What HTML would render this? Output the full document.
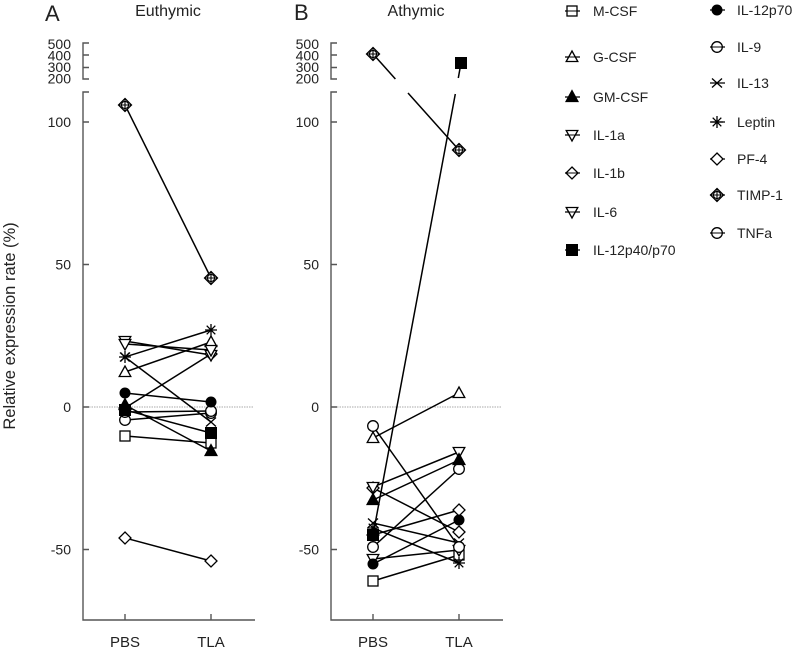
<!DOCTYPE html>
<html><head><meta charset="utf-8"><style>
html,body{margin:0;padding:0;background:#fff;}
svg{display:block;}
text{font-family:"Liberation Sans",Arial,sans-serif;fill:#222;}
</style></head><body>
<svg width="795" height="649" viewBox="0 0 795 649" xmlns="http://www.w3.org/2000/svg">
<defs>
<g id="sq"><rect x="-5" y="-5" width="10" height="10" fill="#fff" stroke="#000" stroke-width="1.3"/></g>
<g id="sqf"><rect x="-5.5" y="-5.5" width="11" height="11" fill="#000" stroke="#000" stroke-width="1"/></g>
<g id="triU"><polygon points="0,-6 5.8,4.5 -5.8,4.5" fill="#fff" stroke="#000" stroke-width="1.3"/></g>
<g id="triUf"><polygon points="0,-6.5 6,4.5 -6,4.5" fill="#000" stroke="#000" stroke-width="1.2"/></g>
<g id="triD"><polygon points="-5.8,-4.5 5.8,-4.5 0,6" fill="#fff" stroke="#000" stroke-width="1.3"/></g>
<g id="dia"><polygon points="0,-6 6,0 0,6 -6,0" fill="#fff" stroke="#000" stroke-width="1.3"/></g>
<g id="circf"><circle r="5.5" fill="#000"/></g>
<g id="circ"><circle r="5.3" fill="#fff" stroke="#000" stroke-width="1.3"/></g>
<g id="xm"><path d="M-5,-4.5L5,4.5M-5,4.5L5,-4.5" stroke="#000" stroke-width="1.3"/></g>
<g id="ast"><path d="M-6,0L6,0M0,-6L0,6M-4.3,-4.3L4.3,4.3M-4.3,4.3L4.3,-4.3" stroke="#000" stroke-width="1.3"/></g>
<g id="timp"><polygon points="0,-6.5 6.5,0 0,6.5 -6.5,0" fill="#fff" stroke="#000" stroke-width="1.3"/><circle r="3.6" fill="none" stroke="#000" stroke-width="1.1"/><path d="M-6.5,0L6.5,0M0,-6.5L0,6.5" stroke="#000" stroke-width="1.1"/></g>
</defs>

<!-- Titles -->
<text x="45" y="21" font-size="22">A</text>
<text x="168" y="16" font-size="16" text-anchor="middle">Euthymic</text>
<text x="294" y="20" font-size="22">B</text>
<text x="416" y="16" font-size="16" text-anchor="middle">Athymic</text>

<!-- Y label -->
<text transform="translate(15,326) rotate(-90)" font-size="16.5" text-anchor="middle">Relative expression rate (%)</text>

<!-- Panel A axes -->
<g stroke="#555" stroke-width="1.4" fill="none">
<path d="M89,43H83V79H89M83,55H89M83,67.5H89"/>
<path d="M89,92H83V620H255"/>
<path d="M83,122H89M83,264.5H89M83,407H89M83,549.5H89"/>
<path d="M125,620V614M211,620V614"/>
</g>
<path d="M89,407H253" stroke="#aaa" stroke-width="1" stroke-dasharray="1.5,1"/>
<g font-size="14" text-anchor="end">
<text x="71" y="49">500</text><text x="71" y="60.5">400</text><text x="71" y="72">300</text><text x="71" y="83.5">200</text>
<text x="71" y="127">100</text><text x="71" y="269.5">50</text><text x="71" y="412">0</text><text x="71" y="554.5">-50</text>
</g>
<text x="125" y="647" font-size="15" text-anchor="middle">PBS</text>
<text x="211" y="647" font-size="15" text-anchor="middle">TLA</text>

<!-- Panel B axes -->
<g stroke="#555" stroke-width="1.4" fill="none">
<path d="M337,43H331V79H337M331,55H337M331,67.5H337"/>
<path d="M337,92H331V620H503"/>
<path d="M331,122H337M331,264.5H337M331,407H337M331,549.5H337"/>
<path d="M373,620V614M459,620V614"/>
</g>
<path d="M337,407H501" stroke="#aaa" stroke-width="1" stroke-dasharray="1.5,1"/>
<g font-size="14" text-anchor="end">
<text x="319" y="49">500</text><text x="319" y="60.5">400</text><text x="319" y="72">300</text><text x="319" y="83.5">200</text>
<text x="319" y="127">100</text><text x="319" y="269.5">50</text><text x="319" y="412">0</text><text x="319" y="554.5">-50</text>
</g>
<text x="373" y="647" font-size="15" text-anchor="middle">PBS</text>
<text x="459" y="647" font-size="15" text-anchor="middle">TLA</text>

<!-- Panel A lines -->
<g stroke="#000" stroke-width="1.5" fill="none">
<path d="M125,436L211,443"/>
<path d="M125,372L211,342"/>
<path d="M125,405L211,451"/>
<path d="M125,341L211,355"/>
<path d="M125,408L211,354"/>
<path d="M125,344L211,350"/>
<path d="M125,410L211,433"/>
<path d="M125,393L211,402"/>
<path d="M125,420L211,413"/>
<path d="M125,357L211,422"/>
<path d="M125,357L211,330"/>
<path d="M125,538L211,561"/>
<path d="M125,105L211,278"/>
<path d="M125,412L211,411"/>
</g>
<!-- Panel A markers -->
<use href="#sq" x="125" y="436"/><use href="#sq" x="211" y="443"/>
<use href="#triU" x="125" y="372"/><use href="#triU" x="211" y="342"/>
<use href="#dia" x="125" y="408"/><use href="#dia" x="211" y="354"/>
<use href="#triD" x="125" y="341"/><use href="#triD" x="211" y="355"/>
<use href="#triD" x="125" y="344"/><use href="#triD" x="211" y="350"/>
<use href="#circ" x="125" y="420"/><use href="#circ" x="211" y="413"/>
<use href="#circ" x="125" y="412"/><use href="#circ" x="211" y="411"/>
<use href="#circf" x="125" y="393"/><use href="#circf" x="211" y="402"/>
<use href="#sqf" x="125" y="410"/><use href="#sqf" x="211" y="433"/>
<use href="#triUf" x="125" y="405"/><use href="#triUf" x="211" y="451"/>
<use href="#xm" x="125" y="357"/><use href="#xm" x="211" y="422"/>
<use href="#ast" x="125" y="357"/><use href="#ast" x="211" y="330"/>
<use href="#dia" x="125" y="538"/><use href="#dia" x="211" y="561"/>
<use href="#timp" x="125" y="105"/><use href="#timp" x="211" y="278"/>

<!-- Panel B lines -->
<g stroke="#000" stroke-width="1.5" fill="none">
<path d="M373,581L459,555"/>
<path d="M373,438L459,393"/>
<path d="M373,500L459,460"/>
<path d="M373,487L459,452"/>
<path d="M373,488L459,532"/>
<path d="M373,559L459,550"/>
<path d="M373,535L455.3,94M458.3,78L461,63"/>
<path d="M373,564L459,520"/>
<path d="M373,547L459,469"/>
<path d="M373,523L459,543"/>
<path d="M373,528L459,563"/>
<path d="M373,535L459,510"/>
<path d="M373,54L395.4,79M408,93L459,150"/>
<path d="M373,426L459,547"/>
</g>
<!-- Panel B markers -->
<use href="#sq" x="373" y="581"/><use href="#sq" x="459" y="555"/>
<use href="#triD" x="373" y="559"/><use href="#triD" x="459" y="550"/>
<use href="#xm" x="373" y="523"/><use href="#xm" x="459" y="543"/>
<use href="#ast" x="373" y="528"/><use href="#ast" x="459" y="563"/>
<use href="#dia" x="373" y="535"/><use href="#dia" x="459" y="510"/>
<use href="#dia" x="373" y="488"/><use href="#dia" x="459" y="532"/>
<use href="#circ" x="373" y="547"/><use href="#circ" x="459" y="469"/>
<use href="#circ" x="373" y="426"/><use href="#circ" x="459" y="547"/>
<use href="#triD" x="373" y="487"/><use href="#triD" x="459" y="452"/>
<use href="#triU" x="373" y="438"/><use href="#triU" x="459" y="393"/>
<use href="#triUf" x="373" y="500"/><use href="#triUf" x="459" y="460"/>
<use href="#circf" x="373" y="564"/><use href="#circf" x="459" y="520"/>
<use href="#sqf" x="373" y="535"/><use href="#sqf" x="461" y="63"/>
<use href="#timp" x="373" y="54"/><use href="#timp" x="459" y="150"/>

<!-- Legend -->
<g stroke="#000" stroke-width="1.3">
<path d="M565,11H580M565,57H580M565,97H580M565,135H580M565,173H580M565,212H580M565,250H580"/>
<path d="M710,10H725M710,47H725M710,83H725M710,122H725M710,159H725M710,195H725M710,233H725"/>
</g>
<use href="#sq" x="572" y="11"/>
<use href="#triU" x="572" y="57"/>
<use href="#triUf" x="572" y="97"/>
<use href="#triD" x="572" y="135"/>
<use href="#dia" x="572" y="173"/>
<use href="#triD" x="572" y="212"/>
<use href="#sqf" x="572" y="250"/>
<use href="#circf" x="717" y="10"/>
<use href="#circ" x="717" y="47"/>
<use href="#xm" x="717" y="83"/>
<use href="#ast" x="717" y="122"/>
<use href="#dia" x="717" y="159"/>
<use href="#timp" x="717" y="195"/>
<use href="#circ" x="717" y="233"/>
<path d="M711,47H723M711,233H723M566,11H578M566,57H578M566,135H578M566,173H578M566,212H578" stroke="#000" stroke-width="1.1"/>
<g font-size="14">
<text x="593" y="16">M-CSF</text>
<text x="593" y="62">G-CSF</text>
<text x="593" y="102">GM-CSF</text>
<text x="593" y="140">IL-1a</text>
<text x="593" y="178">IL-1b</text>
<text x="593" y="217">IL-6</text>
<text x="593" y="255">IL-12p40/p70</text>
<text x="737" y="15">IL-12p70</text>
<text x="737" y="52">IL-9</text>
<text x="737" y="88">IL-13</text>
<text x="737" y="127">Leptin</text>
<text x="737" y="164">PF-4</text>
<text x="737" y="200">TIMP-1</text>
<text x="737" y="238">TNFa</text>
</g>
</svg>
</body></html>
